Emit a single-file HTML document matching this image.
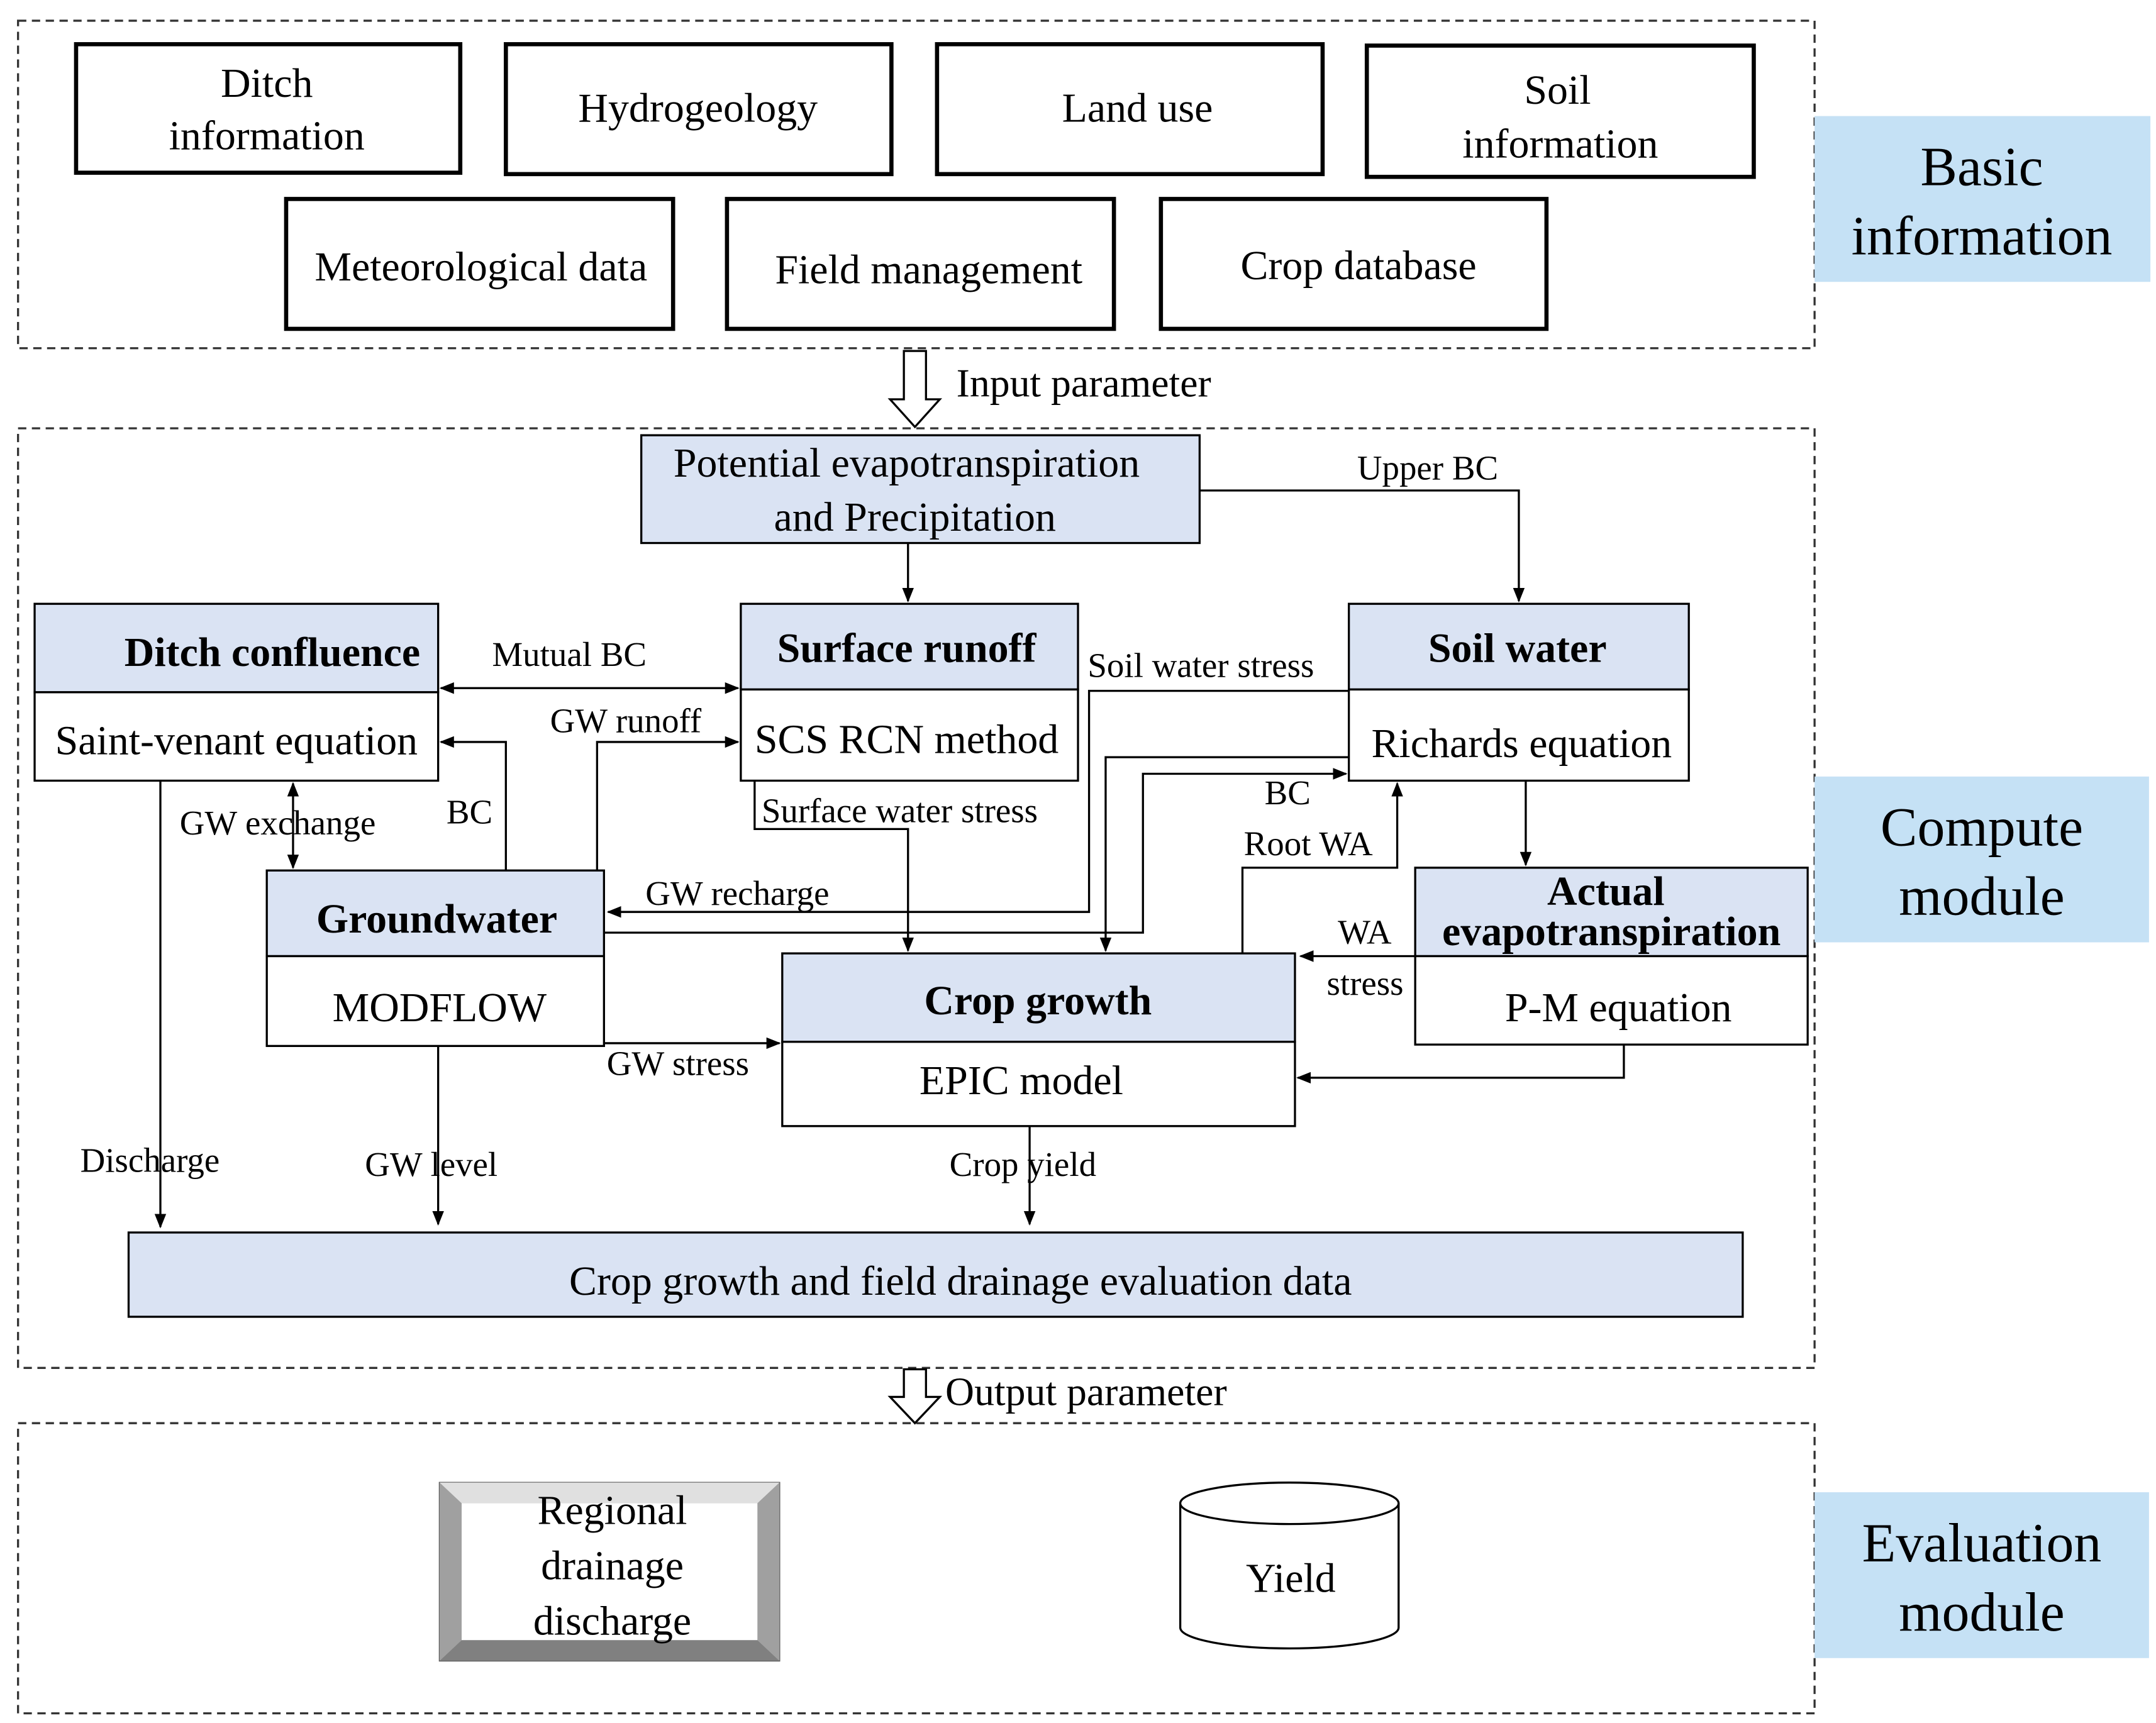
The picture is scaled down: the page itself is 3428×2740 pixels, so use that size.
<!DOCTYPE html>
<html><head><meta charset="utf-8"><style>html,body{margin:0;padding:0;background:#fff}svg{display:block}</style></head>
<body>
<svg xmlns="http://www.w3.org/2000/svg" width="3428" height="2740" viewBox="0 0 1560 1247" font-family="Liberation Serif, serif" fill="#000">
<defs>
<marker id="a" viewBox="0 0 10 10" refX="9" refY="5" markerWidth="7" markerHeight="7" orient="auto-start-reverse"><path d="M0,1 L10,5 L0,9 z" fill="#000"/></marker>
</defs>
<rect width="1560" height="1247" fill="#fff"/>
<!-- dashed sections -->
<g fill="none" stroke="#333" stroke-width="1.5" stroke-dasharray="6,4">
<rect x="13" y="15" width="1300" height="237"/>
<rect x="13" y="310" width="1300" height="680"/>
<rect x="13" y="1030" width="1300" height="210"/>
</g>
<!-- side labels -->
<g fill="#c5e1f5"><rect x="1313" y="84" width="243" height="120"/><rect x="1313" y="562" width="242" height="120"/><rect x="1313" y="1080" width="242" height="120"/></g>
<g font-size="40" text-anchor="middle">
<text x="1434" y="134">Basic</text><text x="1434" y="184">information</text>
<text x="1434" y="612">Compute</text><text x="1434" y="662">module</text>
<text x="1434" y="1130">Evaluation</text><text x="1434" y="1180">module</text>
</g>
<!-- basic info boxes -->
<g fill="none" stroke="#000" stroke-width="3">
<rect x="55" y="32" width="278" height="93"/><rect x="366" y="32" width="279" height="94"/>
<rect x="678" y="32" width="279" height="94"/><rect x="989" y="33" width="280" height="95"/>
<rect x="207" y="144" width="280" height="94"/><rect x="526" y="144" width="280" height="94"/>
<rect x="840" y="144" width="279" height="94"/>
</g>
<g font-size="30" text-anchor="middle">
<text x="193" y="70">Ditch</text><text x="193" y="108">information</text>
<text x="505" y="88">Hydrogeology</text>
<text x="823" y="88">Land use</text>
<text x="1127" y="75">Soil</text><text x="1129" y="114">information</text>
<text x="348" y="203">Meteorological  data</text>
<text x="672" y="205">Field management</text>
<text x="983" y="202">Crop database</text>
</g>
<!-- hollow arrows -->
<path d="M654,254 H670 V289 H680 L662,309 L644,289 H654 Z" fill="#fff" stroke="#000" stroke-width="1.5"/>
<text x="692" y="287" font-size="29">Input parameter</text>
<path d="M654,991 H670 V1011 H680 L662,1030 L644,1011 H654 Z" fill="#fff" stroke="#000" stroke-width="1.5"/>
<text x="684" y="1017" font-size="29">Output parameter</text>
<!-- compute boxes -->
<g stroke="#000" stroke-width="1.5">
<rect x="464" y="315" width="404" height="78" fill="#dae3f3"/>
<rect x="25" y="437" width="292" height="64" fill="#dae3f3"/><rect x="25" y="501" width="292" height="64" fill="#fff"/>
<rect x="536" y="437" width="244" height="62" fill="#dae3f3"/><rect x="536" y="499" width="244" height="66" fill="#fff"/>
<rect x="976" y="437" width="246" height="62" fill="#dae3f3"/><rect x="976" y="499" width="246" height="66" fill="#fff"/>
<rect x="193" y="630" width="244" height="62" fill="#dae3f3"/><rect x="193" y="692" width="244" height="65" fill="#fff"/>
<rect x="1024" y="628" width="284" height="64" fill="#dae3f3"/><rect x="1024" y="692" width="284" height="64" fill="#fff"/>
<rect x="566" y="690" width="371" height="64" fill="#dae3f3"/><rect x="566" y="754" width="371" height="61" fill="#fff"/>
<rect x="93" y="892" width="1168" height="61" fill="#dae3f3"/>
</g>
<g font-size="30" text-anchor="middle">
<text x="656" y="345">Potential  evapotranspiration</text><text x="662" y="384">and Precipitation</text>
<text x="197" y="482" font-weight="bold">Ditch confluence</text><text x="171" y="546">Saint-venant  equation</text>
<text x="656" y="479" font-weight="bold">Surface runoff</text><text x="656" y="545">SCS RCN method</text>
<text x="1098" y="479" font-weight="bold">Soil water</text><text x="1101" y="548">Richards equation</text>
<text x="316" y="675" font-weight="bold">Groundwater</text><text x="318" y="739">MODFLOW</text>
<text x="1162" y="655" font-weight="bold">Actual</text><text x="1166" y="684" font-weight="bold">evapotranspiration</text><text x="1171" y="739">P-M equation</text>
<text x="751" y="734" font-weight="bold">Crop growth</text><text x="739" y="792">EPIC model</text>
<text x="695" y="937">Crop growth and field  drainage  evaluation  data</text>
</g>
<!-- connectors -->
<g fill="none" stroke="#000" stroke-width="1.5" marker-end="url(#a)">
<path d="M868,355 H1099 V435"/>
<path d="M657,393 V435"/>
<path d="M319,498 H534" marker-start="url(#a)"/>
<path d="M432,630 V537 H534"/>
<path d="M366,630 V537 H319"/>
<path d="M212,567 V628" marker-start="url(#a)"/>
<path d="M116,565 V888"/>
<path d="M317,757 V886"/>
<path d="M745,815 V886"/>
<path d="M437,755 H564"/>
<path d="M546,565 V600 H657 V688"/>
<path d="M976,500 H788 V660 H440"/>
<path d="M976,548 H800 V688"/>
<path d="M437,675 H827 V560 H974"/>
<path d="M899,690 V628 H1011 V567"/>
<path d="M1024,692 H941"/>
<path d="M1175,756 V780 H939"/>
<path d="M1104,565 V626"/>
</g>
<g font-size="25">
<text x="982" y="347">Upper BC</text>
<text x="356" y="482">Mutual  BC</text>
<text x="398" y="530">GW runoff</text>
<text x="787" y="490">Soil  water  stress</text>
<text x="130" y="604">GW exchange</text>
<text x="323" y="596">BC</text>
<text x="551" y="595">Surface  water  stress</text>
<text x="915" y="582">BC</text>
<text x="900" y="619">Root WA</text>
<text x="467" y="655">GW recharge</text>
<text x="968" y="683">WA</text>
<text x="960" y="720">stress</text>
<text x="439" y="778">GW stress</text>
<text x="58" y="848">Discharge</text>
<text x="264" y="851">GW level</text>
<text x="687" y="851">Crop yield</text>
</g>
<!-- evaluation shapes -->
<rect x="318" y="1073" width="246" height="129" fill="#c0c0c0" stroke="#555" stroke-width="1"/>
<path d="M318,1073 L334,1088 L548,1088 L564,1073 Z" fill="#e0e0e0"/>
<path d="M318,1202 L334,1187 L548,1187 L564,1202 Z" fill="#808080"/>
<path d="M318,1073 L334,1088 L334,1187 L318,1202 Z" fill="#a0a0a0"/>
<path d="M564,1073 L548,1088 L548,1187 L564,1202 Z" fill="#a0a0a0"/>
<rect x="334" y="1088" width="214" height="99" fill="#fff"/>
<g font-size="30" text-anchor="middle">
<text x="443" y="1103">Regional</text><text x="443" y="1143">drainage</text><text x="443" y="1183">discharge</text>
</g>
<path d="M854,1088 V1178 A79,15 0 0 0 1012,1178 V1088" fill="#fff" stroke="#000" stroke-width="1.5"/>
<ellipse cx="933" cy="1088" rx="79" ry="15" fill="#fff" stroke="#000" stroke-width="1.5"/>
<text x="934" y="1152" font-size="30" text-anchor="middle">Yield</text>
</svg>
</body></html>
